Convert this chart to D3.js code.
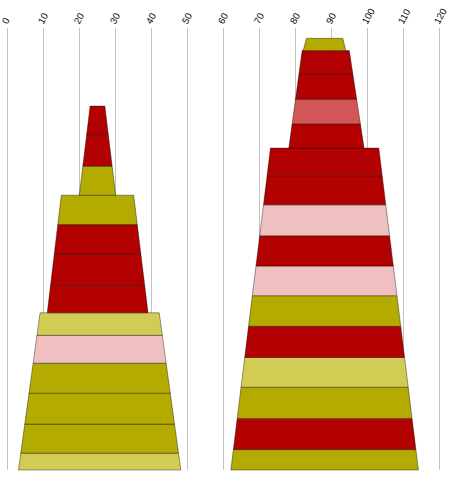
<!DOCTYPE html>
<html>
<head>
<meta charset="utf-8">
<script src="https://cdn.jsdelivr.net/npm/d3@7"></script>
<style>
  html, body { margin: 0; padding: 0; background: #fff; }
  svg { display: block; }
</style>
</head>
<body>
<div id="chart"></div>
<script>
// ---- data ----
const xTicks = [0, 10, 20, 30, 40, 50, 60, 70, 80, 90, 100, 110, 120];

// groups (stacked bottom -> top within each tower)
const groupTower      = [0, 0, 0, 1, 1, 1];
const groupLowBottom  = [3.1, 11.1, 20.0, 62.1, 78.2, 82.2];
const groupHighBottom = [48.2, 39.1, 30.1, 114.2, 99.1, 94.0];
const groupLowTop     = [9.1, 15.0, 23.0, 73.1, 81.9, 83.1];
const groupHighTop    = [42.2, 35.1, 27.1, 103.2, 95.0, 93.2];

// segments (bottom -> top)
const segGroup = [
  0, 0, 0, 0, 0, 0,
  1, 1, 1, 1,
  2, 2, 2,
  3, 3, 3, 3, 3, 3, 3, 3, 3, 3, 3,
  4, 4, 4, 4,
  5
];
const segValue = [
  5.6, 9.7, 10.3, 10.0, 9.3, 7.5,
  9.1, 10.4, 9.9, 9.8,
  9.7, 10.3, 9.7,
  6.8, 10.4, 10.4, 9.9, 10.4, 10.2, 9.9, 10.1, 10.3, 9.7, 9.2,
  8.1, 8.2, 8.5, 7.7,
  4.1
];
const segKind = [
  "lightyellow", "yellow", "yellow", "yellow", "pink", "lightyellow",
  "red", "red", "red", "yellow",
  "yellow", "red", "red",
  "yellow", "red", "yellow", "lightyellow", "red", "yellow", "pink", "red", "pink", "red", "red",
  "red", "lightred", "red", "red",
  "yellow"
];
const kinds  = ["red", "lightred", "pink", "yellow", "lightyellow"];
const colors = ["#b30000", "#d35656", "#f0c0c0", "#b3ab00", "#d2cc55"];

// ---- chart ----
const W = 452, H = 477;
const svg = d3.select("#chart").append("svg").attr("width", W).attr("height", H);

const x = d3.scaleLinear().domain([0, 120]).range([7.3, 439.3]);
const y = d3.scaleLinear().domain([0, 150]).range([470, 20]);
const color = d3.scaleOrdinal().domain(kinds).range(colors);
const gridTop = 28;

// grid lines
svg.append("g")
  .selectAll("line")
  .data(xTicks)
  .join("line")
  .attr("x1", d => Math.round(x(d)) + 0.5)
  .attr("x2", d => Math.round(x(d)) + 0.5)
  .attr("y1", gridTop)
  .attr("y2", y(0))
  .attr("stroke", "#c4c4c4")
  .attr("stroke-width", 1);

// tick labels
svg.append("g")
  .selectAll("text")
  .data(xTicks)
  .join("text")
  .attr("transform", d => `translate(${x(d) - 3},${gridTop - 5}) rotate(-60)`)
  .attr("dy", "0.35em")
  .attr("text-anchor", "start")
  .attr("font-family", "'Liberation Sans', Arial, sans-serif")
  .attr("font-size", 9.5)
  .attr("fill", "#000")
  .text(d => d);

// stack computation
const towerBase = {};
const groupInfo = groupTower.map((t, gi) => {
  const total = d3.sum(segValue.filter((v, i) => segGroup[i] === gi));
  const base = towerBase[t] || 0;
  towerBase[t] = base + total;
  return {
    base, top: base + total,
    low: d3.scaleLinear().domain([base, base + total]).range([groupLowBottom[gi], groupLowTop[gi]]),
    high: d3.scaleLinear().domain([base, base + total]).range([groupHighBottom[gi], groupHighTop[gi]])
  };
});

const groupCursor = groupInfo.map(g => g.base);
const segs = segValue.map((v, i) => {
  const g = segGroup[i];
  const s0 = groupCursor[g];
  const s1 = s0 + v;
  groupCursor[g] = s1;
  return { i, g, s0, s1, kind: segKind[i] };
});

svg.append("g")
  .selectAll("path")
  .data(segs)
  .join("path")
  .attr("d", d => {
    const gi = groupInfo[d.g];
    const pts = [
      [x(gi.low(d.s0)), y(d.s0)],
      [x(gi.high(d.s0)), y(d.s0)],
      [x(gi.high(d.s1)), y(d.s1)],
      [x(gi.low(d.s1)), y(d.s1)]
    ];
    return d3.line()(pts) + "Z";
  })
  .attr("fill", d => color(d.kind))
  .attr("stroke", "rgba(0,0,0,0.38)")
  .attr("stroke-width", 1)
  .attr("stroke-linejoin", "miter");
</script>
</body>
</html>
